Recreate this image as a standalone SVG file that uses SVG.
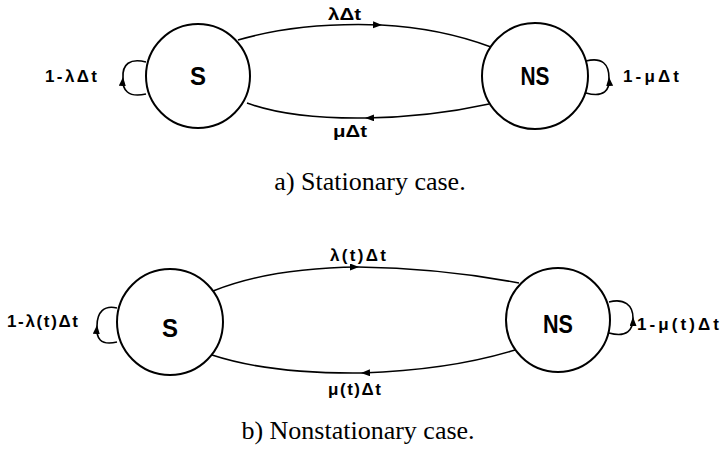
<svg xmlns="http://www.w3.org/2000/svg" width="722" height="449" viewBox="0 0 722 449">
<style>
.node{fill:#fff;stroke:#000;stroke-width:2}
.edge{fill:none;stroke:#000;stroke-width:1.6}
.nl{font-family:"Liberation Sans",Arial,sans-serif;font-weight:bold;font-size:26px;text-anchor:middle;fill:#000}
.el{font-family:"Liberation Sans",Arial,sans-serif;font-weight:bold;font-size:17px;fill:#000}
.cap{font-family:"Liberation Serif","Times New Roman",serif;font-size:26px;text-anchor:middle;fill:#000}
</style>
<defs>
<marker id="ah" markerUnits="userSpaceOnUse" markerWidth="10" markerHeight="8" refX="8" refY="3.5" orient="auto">
<path d="M0,0 L9,3.5 L0,7 Z" fill="#000"/>
</marker>
</defs>
<rect width="722" height="449" fill="#fff"/>
<g id="connectors">
<path class="edge" d="M238,40 Q300,22 381,25" marker-end="url(#ah)"/>
<path class="edge" d="M381,25 Q440,28 491,47"/>
<path class="edge" d="M489,104 Q430,117 366,118" marker-end="url(#ah)"/>
<path class="edge" d="M366,118 Q290,119 247,103"/>
<path class="edge" d="M146,94 C128,98 122,90 123,78" marker-end="url(#ah)"/>
<path class="edge" d="M123,78 C122,64 130,58 146,62"/>
<path class="edge" d="M586,93 C604,98 610,90 609,78" marker-end="url(#ah)"/>
<path class="edge" d="M609,78 C609,64 602,57 586,61"/>
<path class="edge" d="M213,291 Q270,268 358,267" marker-end="url(#ah)"/>
<path class="edge" d="M358,267 Q440,268 519,283"/>
<path class="edge" d="M515,350 Q450,370 362,373" marker-end="url(#ah)"/>
<path class="edge" d="M362,373 Q270,374 212,355"/>
<path class="edge" d="M117,342 C100,346 96,338 97,326" marker-end="url(#ah)"/>
<path class="edge" d="M97,326 C97,312 104,305 117,308"/>
<path class="edge" d="M609,333 C627,338 633,330 633,318" marker-end="url(#ah)"/>
<path class="edge" d="M633,318 C633,305 624,298 609,302"/>
</g>
<g id="labels">
<text class="el" x="328" y="20" textLength="33" lengthAdjust="spacingAndGlyphs">λΔt</text>
<text class="el" x="333" y="137" textLength="34" lengthAdjust="spacingAndGlyphs">μΔt</text>
<text class="el" x="45" y="82" textLength="52" lengthAdjust="spacing">1-λΔt</text>
<text class="el" x="623" y="82" textLength="56" lengthAdjust="spacing">1-μΔt</text>
<text class="el" x="330" y="261" textLength="56" lengthAdjust="spacing">λ(t)Δt</text>
<text class="el" x="328" y="395" textLength="53" lengthAdjust="spacing">μ(t)Δt</text>
<text class="el" x="7" y="327" textLength="71" lengthAdjust="spacing">1-λ(t)Δt</text>
<text class="el" x="637" y="330" textLength="82" lengthAdjust="spacing">1-μ(t)Δt</text>
</g>
<g id="node-S-a"><circle class="node" cx="198" cy="76" r="52"/><text class="nl" x="198" y="85" textLength="16" lengthAdjust="spacingAndGlyphs">S</text></g>
<g id="node-NS-a"><circle class="node" cx="535" cy="76" r="53"/><text class="nl" x="535" y="85" textLength="29" lengthAdjust="spacingAndGlyphs">NS</text></g>
<g id="node-S-b"><circle class="node" cx="170" cy="322" r="53"/><text class="nl" x="170" y="337" textLength="16" lengthAdjust="spacingAndGlyphs">S</text></g>
<g id="node-NS-b"><circle class="node" cx="558" cy="320" r="52"/><text class="nl" x="558" y="333" textLength="30" lengthAdjust="spacingAndGlyphs">NS</text></g>
<text class="cap" x="370" y="190">a) Stationary case.</text>
<text class="cap" x="358" y="439">b) Nonstationary case.</text>
</svg>
